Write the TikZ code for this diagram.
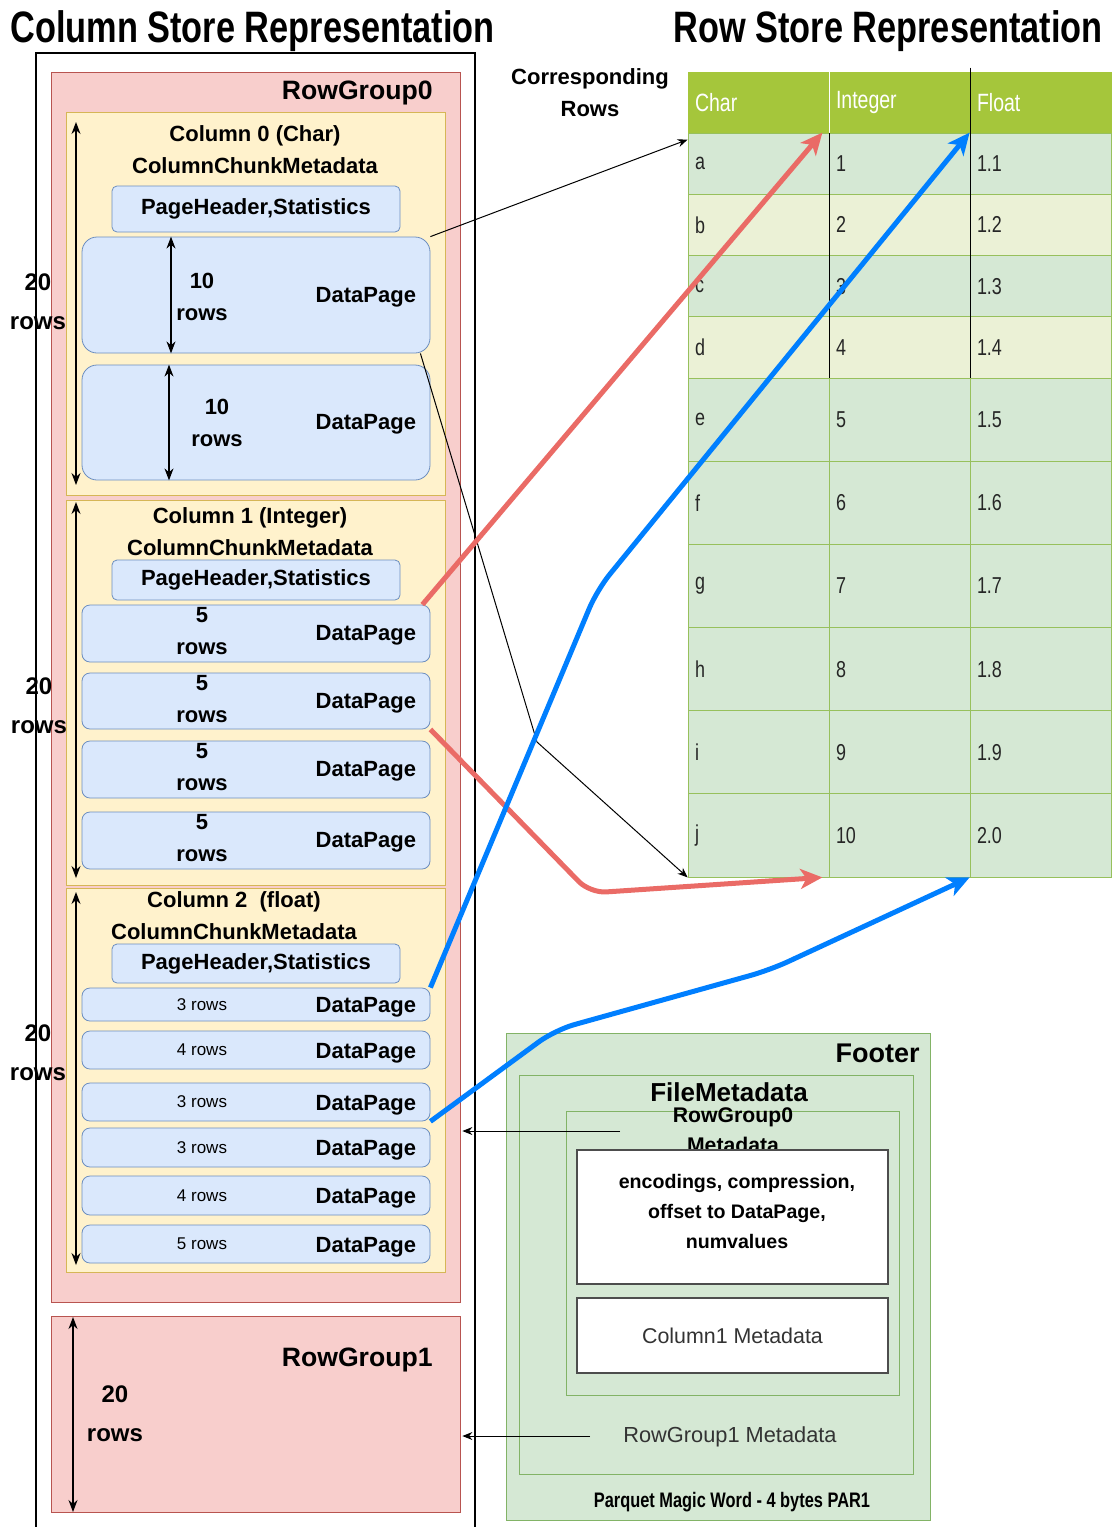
\documentclass[tikz,border=0pt]{standalone}
\usepackage{fontspec}
\setmainfont{Liberation Sans}
\newfontfamily\condfont[FakeStretch=0.78]{Liberation Sans}
\usetikzlibrary{arrows.meta}

\definecolor{pinkfill}{HTML}{F8CECC}
\definecolor{pinkline}{HTML}{B85450}
\definecolor{yelfill}{HTML}{FFF2CC}
\definecolor{yelline}{HTML}{D6B656}
\definecolor{bluefill}{HTML}{DAE8FC}
\definecolor{blueline}{HTML}{6C8EBF}
\definecolor{greenfill}{HTML}{D5E8D4}
\definecolor{greenline}{HTML}{82B366}
\definecolor{hdrgreen}{HTML}{A5C63B}
\definecolor{rowdk}{HTML}{D5E8D4}
\definecolor{rowlt}{HTML}{EBF1D6}
\definecolor{tblline}{HTML}{97C05C}
\definecolor{metaline}{HTML}{4D4D4D}
\definecolor{redarrow}{HTML}{EA6B66}
\definecolor{bluearrow}{HTML}{007FFF}

\newcommand{\setfs}[2]{\fontsize{#1}{#2}\selectfont}

\tikzset{
  rgbox/.style={draw=pinkline, fill=pinkfill, inner sep=0pt, minimum width=204.5pt},
  colbox/.style={draw=yelline, fill=yelfill, inner sep=0pt, minimum width=189.5pt},
  phbox/.style={draw=blueline, fill=bluefill, rounded corners=2.5pt, inner sep=0pt,
    minimum width=144pt, font=\bfseries\setfs{11pt}{13pt}},
  pagebox/.style={draw=blueline, fill=bluefill, inner sep=0pt, minimum width=174pt},
  pgtext/.style={anchor=east, inner sep=0pt, font=\bfseries\setfs{11pt}{13pt}},
  rowsbig/.style={align=center, inner sep=0pt, font=\bfseries\setfs{11pt}{16pt}},
  rowssmall/.style={inner sep=0pt, font=\setfs{8.5pt}{10pt}},
  twenty/.style={align=center, inner sep=0pt, font=\bfseries\setfs{12pt}{19.5pt}},
  coltitle/.style={align=center, inner sep=0pt, font=\bfseries\setfs{11pt}{16pt}},
  dimarr/.style={{Stealth[length=6pt,width=4.5pt]}-{Stealth[length=6pt,width=4.5pt]}, line width=0.6pt},
  cell/.style={draw=tblline, inner xsep=3.5pt, inner ysep=0pt, text width=63.5pt, align=left,
    font=\condfont\setfs{11.5pt}{13pt}, text=black!85},
  hcell/.style={cell, fill=hdrgreen, draw=hdrgreen, minimum height=30.5pt, text=white,
    font=\condfont\setfs{12.5pt}{14pt}},
  ftbox/.style={draw=greenline, fill=greenfill, inner sep=0pt},
  metabox/.style={draw=metaline, fill=white, line width=1pt, inner sep=0pt, minimum width=155.5pt},
  linkarr/.style={-{Stealth[length=5pt,width=4pt]}, line width=0.5pt},
  redarr/.style={draw=redarrow, line width=2.5pt, rounded corners=8pt,
    -{Stealth[length=11pt,width=10pt,inset=3pt]}},
  bluearr/.style={draw=bluearrow, line width=2.5pt, rounded corners=10pt,
    -{Stealth[length=11pt,width=10pt,inset=3pt]}}
}

\begin{document}
\begin{tikzpicture}[x=0.5pt, y=-0.5pt]
  \useasboundingbox (0,0) rectangle (1113,1527);

  % titles
  \node[anchor=base west, inner sep=0pt, font=\condfont\bfseries\setfs{22pt}{26pt}] (tcol) at (10,42) {Column Store Representation};
  \node[anchor=base east, inner sep=0pt, font=\condfont\bfseries\setfs{22pt}{26pt}] (trow) at (1103,42) {Row Store Representation};

  % column store
  \draw[line width=0.6pt] (36,53) rectangle (475,1560);
  \node[rgbox, minimum height=615pt] (rg0) at (255.5,687) {};
  \node[anchor=east, inner sep=0pt, font=\bfseries\setfs{13.3pt}{15pt}] (rg0t) at (433,93) {RowGroup0};

  \node[colbox, minimum height=191.5pt] (col0) at (255.5,303.5) {};
  \node[colbox, minimum height=192.5pt] (col1) at (255.5,692.5) {};
  \node[colbox, minimum height=192pt] (col2) at (255.5,1080) {};

  \node[coltitle] (col0t) at (255,150) {Column 0 (Char)\\ColumnChunkMetadata};
  \node[coltitle] (col1t) at (250,532) {Column 1 (Integer)\\ColumnChunkMetadata};
  \node[coltitle] (col2t) at (234,916) {Column 2\ \ (float)\\ColumnChunkMetadata};

  \node[phbox, minimum height=23pt] (ph0) at (256,209) {PageHeader,Statistics};
  \node[phbox, minimum height=20pt] (ph1) at (256,580) {PageHeader,Statistics};
  \node[phbox, minimum height=19.5pt] (ph2) at (256,963.5) {PageHeader,Statistics};

  % column 0 pages
  \node[pagebox, rounded corners=7.5pt, minimum height=58pt] (dpA1) at (256,295) {};
  \node[pagebox, rounded corners=7.5pt, minimum height=57.5pt] (dpA2) at (256,422.5) {};
  \node[pgtext] (pgA1) at ([xshift=-7pt,yshift=-1pt]dpA1.east) {DataPage};
  \node[pgtext] (pgA2) at ([xshift=-7pt,yshift=-1pt]dpA2.east) {DataPage};
  \node[rowsbig] (rwA1) at ([xshift=-27pt,yshift=-1pt]dpA1.center) {10\\rows};
  \node[rowsbig] (rwA2) at ([xshift=-19.5pt]dpA2.center) {10\\rows};
  \draw[dimarr] ([xshift=-42.5pt]dpA1.north) -- ([xshift=-42.5pt]dpA1.south);
  \draw[dimarr] ([xshift=-43.5pt]dpA2.north) -- ([xshift=-43.5pt]dpA2.south);

  % column 1 pages
  \foreach \n/\y/\h in {1/633.5/28.5pt, 2/701/28pt, 3/769.5/28.5pt, 4/840.5/28.5pt} {
    \node[pagebox, rounded corners=4pt, minimum height=\h] (dpB\n) at (256,\y) {};
    \node[pgtext] (pgB\n) at ([xshift=-7pt,yshift=-1pt]dpB\n.east) {DataPage};
    \node[rowsbig] (rwB\n) at ([xshift=-27pt,yshift=1pt]dpB\n.center) {5\\rows};
  }

  % column 2 pages
  \foreach \n/\y/\h/\r in {1/1004.5/16.5pt/3, 2/1050/19pt/4, 3/1102/19pt/3,
      4/1147.5/19.5pt/3, 5/1195.5/19.5pt/4, 6/1244/19pt/5} {
    \node[pagebox, rounded corners=4pt, minimum height=\h] (dpC\n) at (256,\y) {};
    \node[pgtext] (pgC\n) at ([xshift=-7pt,yshift=-1.5pt]dpC\n.east) {DataPage};
    \node[rowssmall] (rwC\n) at ([xshift=-27pt]dpC\n.center) {\r{} rows};
  }

  % 20 rows markers
  \draw[dimarr] (76,122) -- (76,485);
  \draw[dimarr] (76,502) -- (76,878);
  \draw[dimarr] (76,892) -- (76,1265);
  \node[twenty] (tw0) at (38,302) {20\\rows};
  \node[twenty] (tw1) at (39,706) {20\\rows};
  \node[twenty] (tw2) at (38,1053) {20\\rows};

  \node[rgbox, minimum height=98pt] (rg1) at (255.5,1414) {};
  \node[anchor=east, inner sep=0pt, font=\bfseries\setfs{13.3pt}{15pt}] (rg1t) at (433,1360) {RowGroup1};
  \draw[dimarr] (73,1317) -- (73,1512);
  \node[twenty] (tw3) at (115,1414) {20\\rows};

  % row store table
  \node[coltitle] (corr) at (590,93) {Corresponding\\Rows};
  \node[hcell] (ch-hd) at (758.5,102.5) {Char};
  \node[hcell] (in-hd) at (899.5,102.5) {Integer};
  \node[hcell] (fl-hd) at (1040.5,102.5) {Float};
  \foreach \vc/\vi/\vf/\y/\h/\clr in {a/1/1.1/163.6/30.6pt/rowdk, b/2/1.2/224.9/30.6pt/rowlt,
      c/3/1.3/286.1/30.6pt/rowdk, d/4/1.4/347.4/30.6pt/rowlt, e/5/1.5/419.6/41.6pt/rowdk,
      f/6/1.6/502.8/41.6pt/rowdk, g/7/1.7/585.9/41.6pt/rowdk, h/8/1.8/669.1/41.6pt/rowdk,
      i/9/1.9/752.3/41.6pt/rowdk, j/10/2.0/835.4/41.6pt/rowdk} {
    \node[cell, fill=\clr, minimum height=\h] (ch-\vc) at (758.5,\y) {\vc};
    \node[cell, fill=\clr, minimum height=\h] (in-\vc) at (899.5,\y) {\vi};
    \node[cell, fill=\clr, minimum height=\h] (fl-\vc) at (1040.5,\y) {\vf};
  }
  \draw[white, line width=0.8pt] (ch-hd.north east) -- (ch-hd.south east);
  \draw[line width=0.8pt] (ch-a.north east) -- (ch-d.south east);
  \draw[line width=0.8pt] ([yshift=2pt]in-hd.north east) -- (in-d.south east);

  % footer
  \node[ftbox, minimum width=212pt, minimum height=243.5pt] (footer) at (718,1276.5) {};
  \node[anchor=east, inner sep=0pt, font=\bfseries\setfs{13.5pt}{15pt}] (foott) at (920,1053) {Footer};
  \node[ftbox, minimum width=197pt, minimum height=199.5pt] (fmeta) at (716,1274.5) {};
  \node[inner sep=0pt, font=\bfseries\setfs{13pt}{15pt}] (fmetat) at (729,1092) {FileMetadata};
  \node[ftbox, minimum width=166.5pt, minimum height=142pt] (rg0meta) at (732.5,1253) {};
  \node[align=center, inner sep=0pt, font=\bfseries\setfs{10.6pt}{15pt}] (rg0metat) at (733,1130) {RowGroup0\\Metadata};
  \node[metabox, minimum height=67pt] (encbox) at (732.5,1217) {};
  \node[align=center, inner sep=0pt, font=\bfseries\setfs{9.8pt}{15pt}] (enct) at (737,1211.5) {encodings, compression,\\offset to DataPage,\\numvalues};
  \node[metabox, minimum height=37.5pt, font=\setfs{10.7pt}{13pt}, text=black!80] (c1meta) at (732.5,1335.5) {Column1 Metadata};
  \node[inner sep=0pt, font=\setfs{10.9pt}{13pt}, text=black!80] (rg1metat) at (730,1437) {RowGroup1 Metadata};
  \node[inner sep=0pt, font=\condfont\bfseries\setfs{10.5pt}{12pt}] (magic) at (732,1502) {Parquet Magic Word - 4 bytes PAR1};

  \coordinate (rg0m) at (620,1131);
  \coordinate (rg1m) at (590,1436);
  \draw[linkarr] (rg0m) -- ([xshift=1pt]rg0m -| rg0.east);
  \draw[linkarr] (rg1m) -- ([xshift=1pt]rg1m -| rg1.east);

  % links to rows
  \draw[linkarr] (dpA1.north east) -- ([yshift=-3.5pt]ch-a.north west);
  \draw[linkarr] ([xshift=-5pt]dpA1.south east) -- (537,742) -- (ch-j.south west);
  \draw[redarr] ([xshift=-4pt]dpB1.north east) -- ([xshift=-3.5pt]ch-a.north east);
  \draw[redarr] (dpB2.south east) -- (590,893) -- ([xshift=-3.5pt]ch-j.south east);
  \draw[bluearr] (dpC1.north east) -- (597,590) -- (fl-a.north west);
  \draw[bluearr] (dpC3.south east) -- (555,1030) -- (770,970) -- (fl-j.south west);
\end{tikzpicture}
\end{document}
